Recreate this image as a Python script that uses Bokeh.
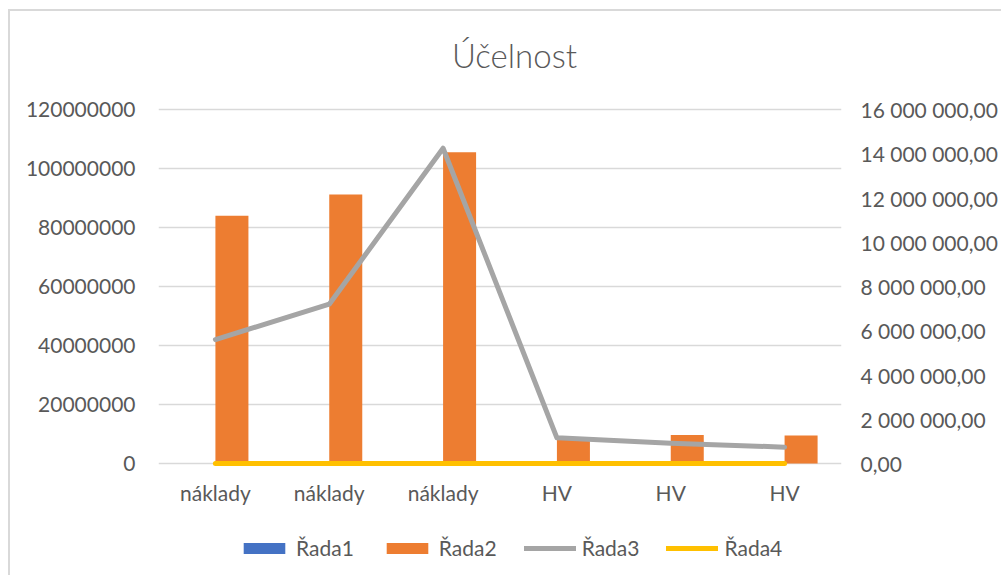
from bokeh.plotting import figure
from bokeh.models import (Range1d, LinearAxis, FixedTicker, NumeralTickFormatter,
                          CustomJSTickFormatter, Legend, LegendItem, Label, ColumnDataSource)
from bokeh.embed import file_html
from bokeh.resources import INLINE

# ---- data ----
title_text = "Účelnost"
categories = ["náklady", "náklady", "náklady", "HV", "HV", "HV"]
rada1 = [0, 0, 0, 0, 0, 0]
rada2 = [84.0e6, 91.2e6, 105.5e6, 8.3e6, 9.7e6, 9.5e6]
rada3 = [5.6e6, 7.2e6, 14.25e6, 1.16e6, 0.92e6, 0.74e6]
rada4 = [0, 0, 0, 0, 0, 0]
series_names = ["Řada1", "Řada2", "Řada3", "Řada4"]
left_ticks = [0, 20e6, 40e6, 60e6, 80e6, 100e6, 120e6]
right_ticks = [0, 2e6, 4e6, 6e6, 8e6, 10e6, 12e6, 14e6, 16e6]
left_max = 120e6
right_max = 16e6

FONT = "Lato"
TXT = "#595959"
GRID = "#d9d9d9"

xs = [i + 1 for i in range(len(categories))]
bw = 0.29
src = ColumnDataSource(dict(
    x=xs,
    x1=[x - bw / 2 for x in xs],
    x2=[x + bw / 2 for x in xs],
    r1=rada1, r2=rada2, r3=rada3, r4=rada4,
))

# layout (pixels): the value range occupies VAL_H px; the frame extends above
# (title area) and below (category labels + legend) so nothing gets clipped
VAL_H = 354
ABOVE = 98
BELOW = 110
FRAME_H = VAL_H + ABOVE + BELOW
lo = BELOW / VAL_H
hi = 1 + ABOVE / VAL_H

p = figure(frame_width=683, frame_height=FRAME_H,
           min_border_left=148, min_border_right=160,
           min_border_top=0, min_border_bottom=2,
           x_range=Range1d(0.5, len(categories) + 0.5),
           y_range=Range1d(-left_max * lo, left_max * hi),
           output_backend="svg", toolbar_location=None, tools="")
p.styles = {"margin-left": "8px", "margin-top": "9px",
            "border-top": "2px solid #d9d9d9", "border-left": "2px solid #d9d9d9"}
p.outline_line_color = None
p.background_fill_color = "white"
p.border_fill_color = "white"

p.extra_y_ranges = {"right": Range1d(-right_max * lo, right_max * hi)}

# grid
p.xgrid.visible = False
p.ygrid.ticker = FixedTicker(ticks=left_ticks)
p.ygrid.grid_line_color = GRID
p.ygrid.grid_line_width = 1.5

# x axis (drawn at value 0 inside the frame)
xa = p.xaxis[0]
xa.fixed_location = 0
xa.ticker = FixedTicker(ticks=xs)
xa.major_label_overrides = {x: c for x, c in zip(xs, categories)}
xa.axis_line_color = None
xa.major_tick_line_color = None
xa.major_tick_out = 0
xa.minor_tick_line_color = None
xa.major_label_text_font = FONT
xa.major_label_text_font_size = "21px"
xa.major_label_text_color = TXT
xa.major_label_standoff = 16

# left axis
ya = p.yaxis[0]
ya.ticker = FixedTicker(ticks=left_ticks)
ya.formatter = NumeralTickFormatter(format="0")
ya.axis_line_color = None
ya.major_tick_line_color = None
ya.major_tick_out = 0
ya.minor_tick_line_color = None
ya.major_label_text_font = FONT
ya.major_label_text_font_size = "21px"
ya.major_label_text_color = TXT
ya.major_label_standoff = 23

# right axis
ra = LinearAxis(y_range_name="right",
                ticker=FixedTicker(ticks=right_ticks),
                formatter=CustomJSTickFormatter(code="""
                    const s = tick.toFixed(2).split('.');
                    return s[0].replace(/\\B(?=(\\d{3})+(?!\\d))/g, ' ') + ',' + s[1];
                """))
ra.axis_line_color = None
ra.major_tick_line_color = None
ra.major_tick_out = 0
ra.minor_tick_line_color = None
ra.major_label_text_font = FONT
ra.major_label_text_font_size = "21px"
ra.major_label_text_color = TXT
ra.major_label_standoff = 19
p.add_layout(ra, "right")

# glyphs
b1 = p.vbar(x="x1", top="r1", width=bw, source=src, fill_color="#4472c4", line_color=None)
b2 = p.vbar(x="x2", top="r2", width=bw, source=src, fill_color="#ed7d31", line_color=None)
l3 = p.line(x="x", y="r3", source=src, y_range_name="right", line_color="#a5a5a5",
            line_width=5, line_cap="round", line_join="round")
l4 = p.line(x="x", y="r4", source=src, y_range_name="right", line_color="#ffc000",
            line_width=5, line_cap="round", line_join="round")

# title (inside the frame's top area)
p.add_layout(Label(x=356, y=FRAME_H - 43, x_units="screen", y_units="screen",
                   text=title_text, text_font="Lato Light", text_font_size="33px",
                   text_color=TXT, text_align="center", text_baseline="alphabetic"))

# legend (inside the frame, below the category labels)
legend = Legend(items=[LegendItem(label=n, renderers=[r])
                       for n, r in zip(series_names, [b1, b2, l3, l4])],
                orientation="horizontal", location=(80, 13),
                glyph_width=52, glyph_height=14, label_standoff=6, spacing=27,
                padding=0, margin=0, label_height=24,
                label_text_font=FONT, label_text_font_size="21px", label_text_color=TXT,
                border_line_color=None, background_fill_alpha=0)
p.add_layout(legend)

open("out.html", "w").write(file_html(p, INLINE))
